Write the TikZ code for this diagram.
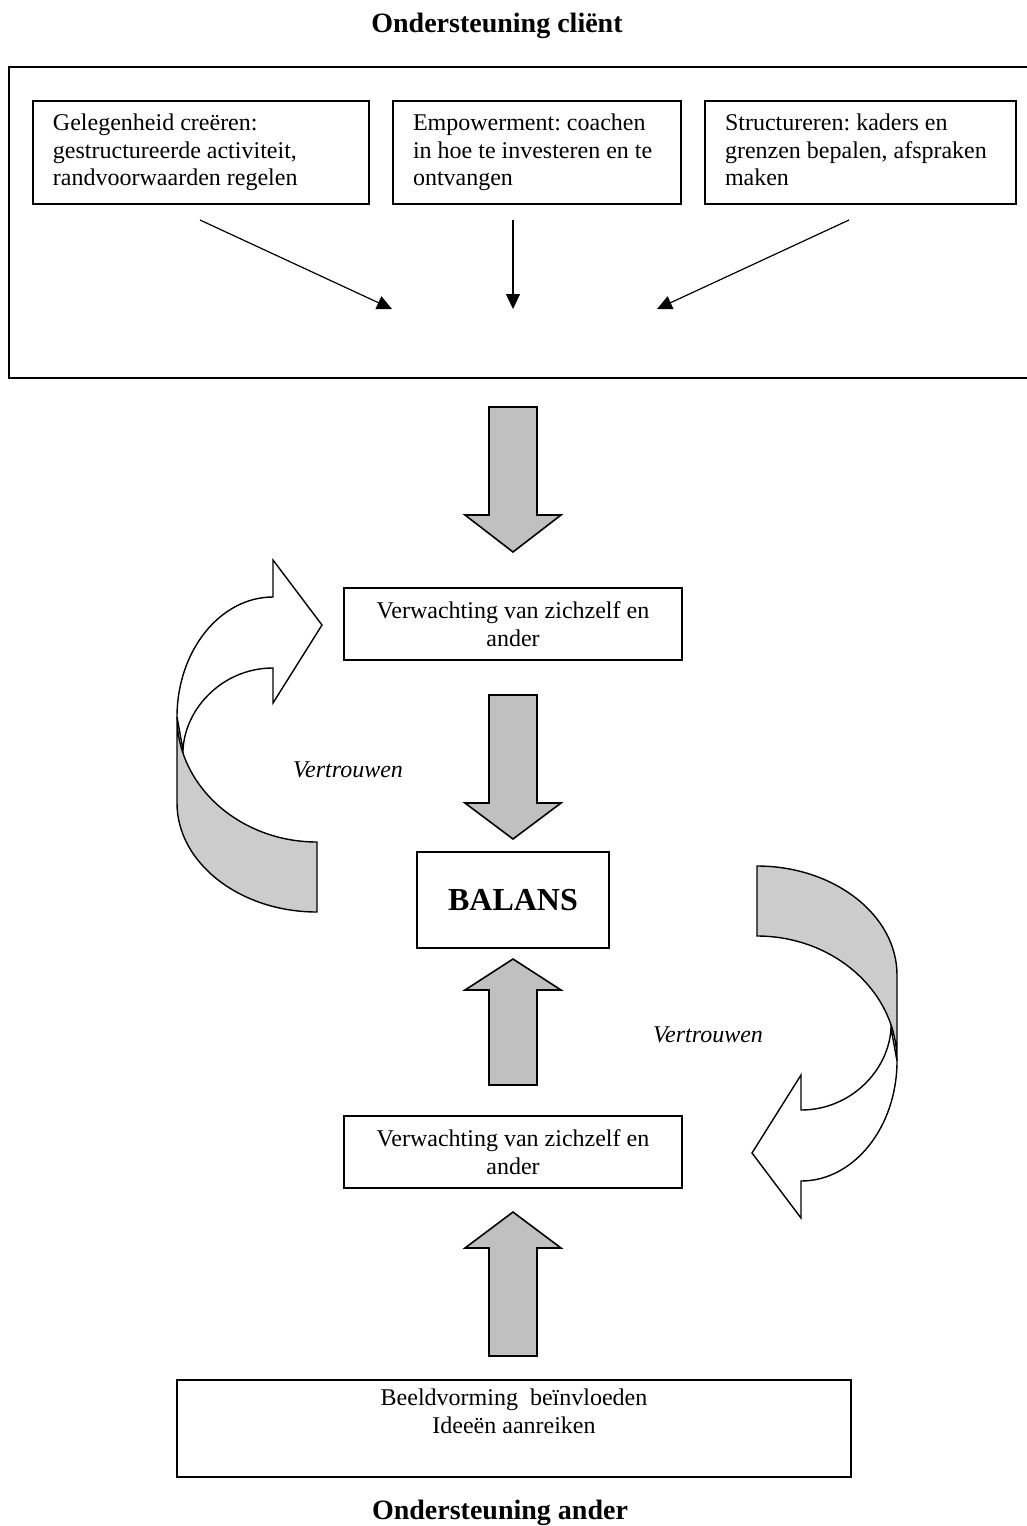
\documentclass[tikz,border=0pt]{standalone}
\usepackage{fontspec}
\setmainfont{Liberation Serif}
\usetikzlibrary{positioning,arrows.meta}
\definecolor{pijlgrijs}{HTML}{C0C0C0}
\definecolor{bandgrijs}{HTML}{CCCCCC}
\frenchspacing

% dikke grijze blokpijl: staart, basis van de punt, punt
\newcommand{\blokpijl}[3]{%
  \draw[blok] (489,#1) -- (537,#1) -- (537,#2) -- (561,#2) -- (513,#3)
    -- (465,#2) -- (489,#2) -- cycle;}
% gebogen pijl (achterkant grijs, voorkant wit)
\newcommand{\bochtpijl}[1]{%
  \begin{scope}[#1]
    \draw[band] (317,842) -- (317,912) .. controls (240,912) and (177,863) .. (177,803)
      -- (177,717) .. controls (177,786) and (240,842) .. (317,842) -- cycle;
    \draw[voorkant] (177,717) .. controls (177,651) and (220,597) .. (273,597)
      -- (273,560) -- (322,625) -- (273,703) -- (273,668)
      .. controls (223,668) and (185,708) .. (183,750) -- cycle;
  \end{scope}}

\begin{document}
\begin{tikzpicture}[x=0.5pt, y=-0.5pt,
    every node/.style={font=\fontsize{12}{13.8}\selectfont},
    vak/.style={draw, line width=0.8pt, fill=white, inner xsep=10pt, inner ysep=0pt},
    links/.style={align=left, minimum height=51.5pt,
      execute at begin node={\spaceskip=0.25em plus 0.1em\relax\strut},
      execute at end node={\strut}},
    kop/.style={font=\bfseries\fontsize{14}{16}\selectfont},
    schuin/.style={font=\itshape\fontsize{12}{13.8}\selectfont},
    pijl/.style={-{Triangle[length=7.5pt,width=7pt]}, line width=0.6pt},
    blok/.style={draw, line width=0.8pt, fill=pijlgrijs, line join=miter},
    band/.style={draw, line width=0.7pt, fill=bandgrijs},
    voorkant/.style={draw, line width=0.7pt, fill=white, line join=miter}]
  \useasboundingbox (0,0) rectangle (1027,1526);

  % Ondersteuning client
  \node[kop, anchor=base] (titelclient) at (497,32) {Ondersteuning cliënt};
  \draw[line width=0.8pt] (1027,67) -- (9,67) -- (9,378) -- (1027,378);
  \node[vak, links, text width=148pt]
    (gelegenheid) at (201,152.5) {Gelegenheid creëren:\\gestructureerde activiteit,\\randvoorwaarden regelen};
  \node[vak, links, text width=124pt]
    (empowerment) at (537,152.5) {Empowerment: coachen\\in hoe te investeren en te\\ontvangen};
  \node[vak, links, text width=135.5pt]
    (structureren) at (860.5,152.5) {Structureren: kaders en\\grenzen bepalen, afspraken\\maken};
  \coordinate (s1) at (200,220);
  \coordinate (e1) at (392,309);
  \coordinate (s2) at (513,220);
  \coordinate (e2) at (513,309);
  \coordinate (s3) at (849,220);
  \coordinate (e3) at (657,309);
  \draw[pijl] (s1) -- (e1);
  \draw[pijl] (s2) -- (e2);
  \draw[pijl] (s3) -- (e3);

  % Middenkolom
  \blokpijl{407}{515}{552}
  \node[vak, minimum width=169pt, minimum height=36pt, align=center]
    (verwachting1) at (513,624) {Verwachting van zichzelf en\\ander};
  \blokpijl{695}{803}{839}
  \node[vak, minimum width=96pt, minimum height=48pt,
        font=\bfseries\fontsize{16}{19}\selectfont] (balans) at (513,900) {BALANS};
  \blokpijl{1085}{990}{959}
  \node[vak, minimum width=169pt, minimum height=36pt, align=center]
    (verwachting2) at (513,1152) {Verwachting van zichzelf en\\ander};
  \blokpijl{1356}{1248}{1212}

  % Vertrouwen
  \bochtpijl{}
  \bochtpijl{rotate around={180:(537,889)}}
  \node[schuin] (vertrouwen1) at (348,770) {Vertrouwen};
  \node[schuin] (vertrouwen2) at (708,1035) {Vertrouwen};

  % Ondersteuning ander
  \node[vak, minimum width=337pt, minimum height=48.5pt] (beeld) at (514,1428.5) {};
  \node[align=center] (beeldtekst) at ([yshift=8.75pt]beeld.center)
    {Beeldvorming~ beïnvloeden\\Ideeën aanreiken};
  \node[kop, anchor=base] (titelander) at (500,1519) {Ondersteuning ander};
\end{tikzpicture}
\end{document}
